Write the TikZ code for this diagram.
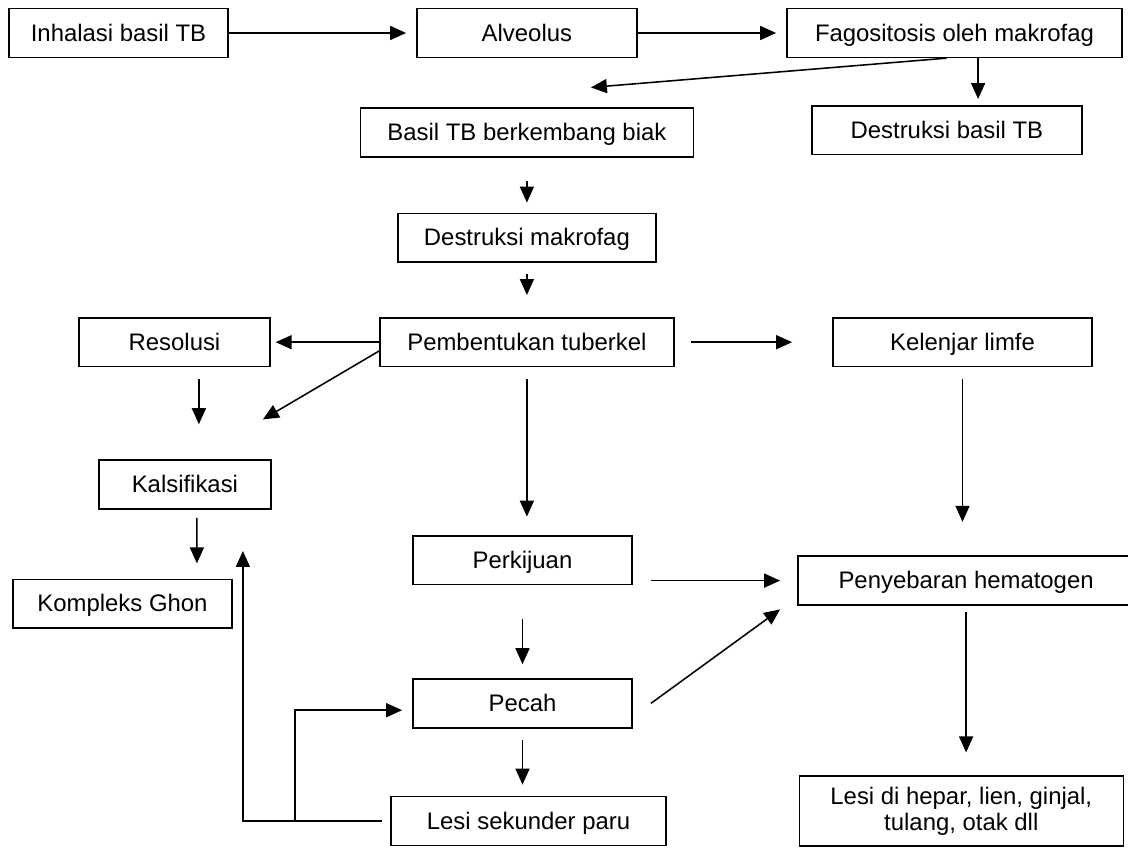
\documentclass[tikz,border=0pt]{standalone}
\usepackage{fontspec}
\setmainfont{Liberation Sans}
\usetikzlibrary{positioning, arrows.meta}

\tikzset{
box/.style = {rectangle, draw, line width = 1.1pt, minimum height = 1.22cm, font = \fontsize{17pt}{18.5pt}\selectfont, text height = 15pt, text depth = 3.6pt},
arr/.style = {-{Triangle[length = 0.4cm, width = 0.35cm]}, line width = 1.1pt}
}

\begin{document}
\begin{tikzpicture}
\useasboundingbox (-2.9625, 0.825) rectangle (25.2375, -20.375);

\node[box, minimum width = 5.48cm](inhalasi){Inhalasi basil TB};
\node[box, right of = inhalasi, node distance = 10.21cm, minimum width = 5.5cm](alveolus){Alveolus};
\node[box, right of = alveolus, node distance = 10.69cm, minimum width = 8.38cm](fagosit){Fagositosis oleh makrofag};
\node[box, below of = alveolus, node distance = 2.49cm, minimum width = 8.33cm](biak){Basil TB berkembang biak};
\node[box, below of = fagosit, node distance = 2.43cm, xshift = -0.19cm, minimum width = 6.75cm](destbasil){Destruksi basil TB};
\node[box, below of = biak, node distance = 2.63cm, minimum width = 6.45cm](destmakro){Destruksi makrofag};
\node[box, below of = destmakro, node distance = 2.61cm, minimum width = 7.35cm](tuberkel){Pembentukan tuberkel};
\node[box, left of = tuberkel, node distance = 8.81cm, minimum width = 4.78cm](resolusi){Resolusi};
\node[box, right of = tuberkel, node distance = 10.89cm, minimum width = 6.48cm](limfe){Kelenjar limfe};
\node[box, below of = resolusi, node distance = 3.56cm, xshift = 0.26cm, minimum width = 4.3cm](kalsif){Kalsifikasi};
\node[box, below of = kalsif, node distance = 2.98cm, xshift = -1.56cm, minimum width = 5.48cm](ghon){Kompleks Ghon};
\node[box, below of = tuberkel, node distance = 5.45cm, xshift = -0.11cm, minimum width = 5.48cm](kiju){Perkijuan};
\node[box, below of = limfe, node distance = 5.96cm, xshift = 0.09cm, minimum width = 8.4cm](hemato){Penyebaran hematogen};
\node[box, below of = kiju, node distance = 3.58cm, minimum width = 5.48cm](pecah){Pecah};
\node[box, below of = pecah, node distance = 2.94cm, xshift = 0.15cm, minimum width = 6.88cm](sekunder){Lesi sekunder paru};
\node[box, below of = hemato, node distance = 5.76cm, xshift = -0.12cm, minimum width = 8.1cm, minimum height = 1.75cm, align = center, text height = , text depth = ](organ){Lesi di hepar, lien, ginjal,\\ tulang, otak dll};

\path[arr]
(inhalasi) edge[shorten > = 0.25cm] (alveolus)
(alveolus) edge[shorten > = 0.25cm] (fagosit)
([xshift = -0.2cm]fagosit.south) edge ([xshift = 1.6cm, yshift = 0.5cm]biak.north)
([xshift = 0.59cm]fagosit.south) edge[shorten > = 0.15cm] ([xshift = 0.78cm]destbasil.north)
(biak) edge[shorten < = 0.58cm, shorten > = 0.25cm] (destmakro)
(destmakro) edge[shorten < = 0.28cm, shorten > = 0.55cm] (tuberkel)
(tuberkel) edge[shorten > = 0.12cm] (resolusi)
([yshift = -0.22cm]tuberkel.west) edge ([xshift = -0.22cm, yshift = 1cm]kalsif.north east)
([xshift = 0.61cm]resolusi.south) edge[shorten < = 0.28cm, shorten > = 0.88cm] ([xshift = 0.35cm]kalsif.north)
([xshift = 0.3cm]kalsif.south) edge[shorten < = 0.2cm, shorten > = 0.38cm] ([xshift = 1.86cm]ghon.north)
(tuberkel) edge[shorten < = 0.42cm, shorten > = 1cm] (limfe)
(tuberkel.south) edge[shorten < = 0.28cm, shorten > = 0.46cm] (tuberkel.south |- kiju.north)
(limfe.south) edge[shorten < = 0.28cm, shorten > = 0.84cm] (limfe.south |- hemato.north)
(kiju.east |- hemato.west) edge[shorten < = 0.45cm, shorten > = 0.43cm] (hemato.west)
(kiju) edge[shorten < = 0.83cm, shorten > = 0.35cm] (pecah)
([xshift = 0.45cm]pecah.east) edge ([xshift = -0.43cm, yshift = -0.09cm]hemato.south west)
(pecah.south) edge[shorten < = 0.28cm, shorten > = 0.28cm] (pecah.south |- sekunder.north)
(hemato.south) edge[shorten < = 0.16cm, shorten > = 0.57cm] (hemato.south |- organ.north)
;

\draw[arr] ([xshift = -0.2cm]sekunder.west) -| ([xshift = 1.45cm, yshift = -1.03cm]kalsif.south);
\draw[arr] ([xshift = -2.38cm]sekunder.west) |- ([xshift = -0.25cm, yshift = -0.17cm]pecah.west);
\end{tikzpicture}
\end{document}
